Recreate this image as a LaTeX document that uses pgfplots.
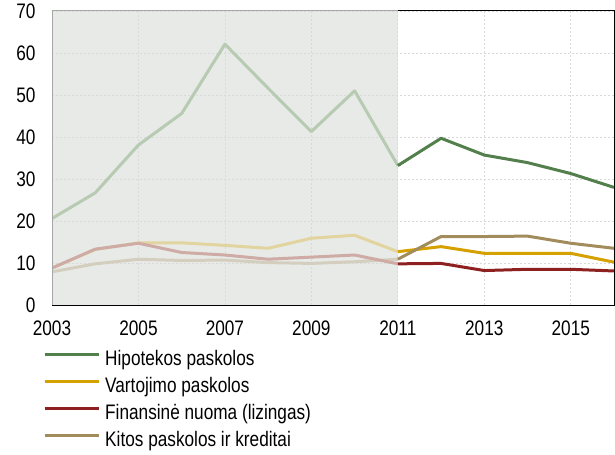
\documentclass[border=0pt]{standalone}
\usepackage{fontspec}
\setmainfont{Liberation Sans}[FakeStretch=0.82]
\usepackage{pgfplots}
\pgfplotsset{compat=1.18}

% full colours (2011 onwards) and faded colours (2003--2011)
\definecolor{hipC}{RGB}{82,127,76}
\definecolor{hipF}{RGB}{183,202,178}
\definecolor{varC}{RGB}{212,161,0}
\definecolor{varF}{RGB}{226,212,158}
\definecolor{finC}{RGB}{142,32,32}
\definecolor{finF}{RGB}{207,171,166}
\definecolor{kitC}{RGB}{162,140,92}
\definecolor{kitF}{RGB}{212,206,190}
\definecolor{shade}{RGB}{232,234,231}

\begin{document}
\begin{tikzpicture}[font=\fontsize{21bp}{25bp}\selectfont]
\begin{axis}[
  set layers,
  at={(0,0)}, anchor=south west,
  scale only axis,
  width=562bp, height=294bp,
  xmin=2003, xmax=2016, ymin=0, ymax=70,
  xtick={2003,2005,...,2015},
  ytick={0,10,...,70},
  grid=major,
  major grid style={gray!30, dash pattern=on 2bp off 2bp, line width=0.8bp},
  major tick length=0pt,
  axis line style={black, line width=1bp},
  /pgf/number format/assume math mode=true,
  /pgf/number format/1000 sep={},
  x tick label style={yshift=-12.5bp},
  y tick label style={xshift=-13bp},
  legend style={at={(axis description cs:-0.016,-0.153)}, anchor=north west,
    draw=none, fill=none, inner sep=0pt, legend cell align=left,
    row sep=10bp, column sep=5bp,
    nodes={inner sep=0pt, text height=15bp, text depth=2bp}},
  legend image code/.code={\draw[#1] (0bp,4bp) -- (54bp,4bp);},
  every axis plot/.append style={line width=3bp, line join=round},
]
% historical period
\addplot[fill=shade, draw=none, on layer=axis background, forget plot]
  coordinates {(2003,0) (2003,70) (2011,70) (2011,0)};

% faded 2003--2011
\addplot[varF, forget plot] coordinates {
  (2003,8.8) (2004,13.2) (2005,14.8) (2006,14.8) (2007,14.2) (2008,13.5)
  (2009,15.9) (2010,16.6) (2011,12.7)};
\addplot[kitF, forget plot] coordinates {
  (2003,7.9) (2004,9.8) (2005,10.9) (2006,10.6) (2007,10.7) (2008,10.1)
  (2009,9.9) (2010,10.3) (2011,10.9)};
\addplot[finF, forget plot] coordinates {
  (2003,8.8) (2004,13.3) (2005,14.7) (2006,12.5) (2007,11.9) (2008,10.9)
  (2009,11.4) (2010,11.9) (2011,9.8)};
\addplot[hipF, forget plot] coordinates {
  (2003,20.6) (2004,26.7) (2005,38.1) (2006,45.6) (2007,62.1) (2008,51.6)
  (2009,41.3) (2010,51.0) (2011,33.2)};

% 2011 onwards
\addplot[hipC] coordinates {
  (2011,33.2) (2012,39.7) (2013,35.7) (2014,33.9) (2015,31.3) (2016,28.0)};
\addlegendentry{Hipotekos paskolos}
\addplot[varC] coordinates {
  (2011,12.7) (2012,13.9) (2013,12.3) (2014,12.3) (2015,12.3) (2016,10.2)};
\addlegendentry{Vartojimo paskolos}
\addplot[finC] coordinates {
  (2011,9.8) (2012,9.9) (2013,8.2) (2014,8.5) (2015,8.5) (2016,8.1)};
\addlegendentry{Finansinė nuoma (lizingas)}
\addplot[kitC] coordinates {
  (2011,10.9) (2012,16.3) (2013,16.3) (2014,16.4) (2015,14.7) (2016,13.5)};
\addlegendentry{Kitos paskolos ir kreditai}

% lighter frame around the historical period
\addplot[gray!70, line width=1bp, forget plot]
  coordinates {(2003,0) (2003,70) (2011,70)};
\end{axis}
% page extent
\pgfresetboundingbox
\path[use as bounding box] (-52bp,-150bp) rectangle (563bp,305bp);
\end{tikzpicture}
\end{document}
